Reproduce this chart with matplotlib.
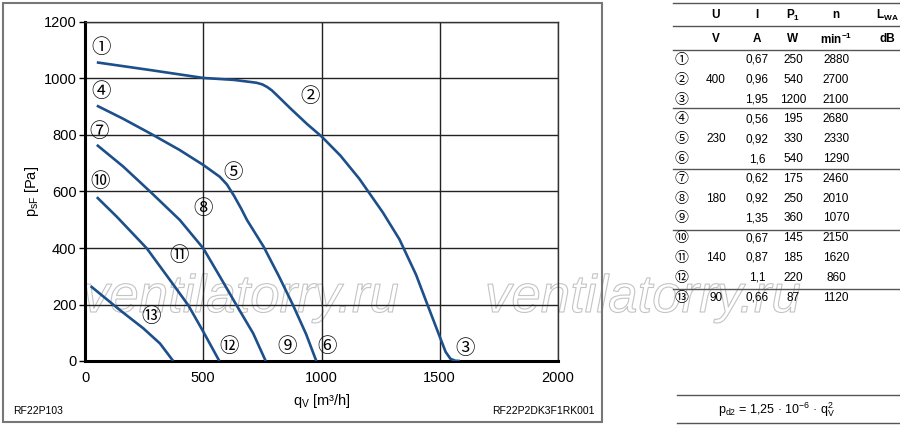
import matplotlib
matplotlib.use("Agg")
import matplotlib.pyplot as plt
import matplotlib.patheffects as pe
from matplotlib.patches import Rectangle
from matplotlib.lines import Line2D

plt.rcParams['font.family'] = ['Liberation Sans', 'DejaVu Sans']
plt.rcParams['mathtext.fontset'] = 'custom'
plt.rcParams['mathtext.rm'] = 'Liberation Sans'
plt.rcParams['mathtext.it'] = 'Liberation Sans:italic'
plt.rcParams['mathtext.bf'] = 'Liberation Sans:bold'

# curves, qV [m3/h] / psF [Pa]
c400_x = [50, 275, 500, 630, 725, 750, 770, 790, 810, 870, 940, 1000, 1080, 1160, 1260, 1330, 1400, 1450, 1500, 1525, 1545, 1565, 1585]
c400_y = [1057, 1030, 1002, 995, 985, 979, 970, 958, 942, 893, 838, 795, 727, 645, 525, 430, 305, 195, 86, 32, 8, 1, 0]
c230_x = [50, 160, 275, 400, 500, 570, 600, 630, 660, 685, 755, 820, 880, 935, 978]
c230_y = [904, 858, 806, 747, 694, 652, 625, 585, 540, 499, 405, 300, 197, 95, 0]
c180_x = [50, 162, 275, 401, 500, 571, 641, 711, 764]
c180_y = [765, 688, 600, 499, 399, 298, 197, 98, 0]
c140_x = [50, 134, 261, 359, 437, 500, 568]
c140_y = [580, 511, 399, 287, 197, 104, 0]
c90_x = [24, 148, 246, 317, 373]
c90_y = [265, 180, 116, 62, 0]

# circled point labels
lbl_nums = ['①', '②', '③', '④', '⑤', '⑥', '⑦', '⑧', '⑨', '⑩', '⑪', '⑫', '⑬']
lbl_x = [70, 951, 1606, 70, 627, 1022, 58, 500, 853, 63, 397, 610, 279]
lbl_y = [1109, 938, 45, 953, 668, 51, 812, 541, 51, 635, 375, 51, 159]

# table
col_head = ['U', 'I', r'$\mathbf{P_1}$', 'n', r'$\mathbf{L_{WA}}$']
col_unit = ['V', 'A', 'W', r'$\mathbf{min^{-1}}$', 'dB']
tab_U = ['', '400', '', '', '230', '', '', '180', '', '', '140', '', '90']
tab_I = ['0,67', '0,96', '1,95', '0,56', '0,92', '1,6', '0,62', '0,92', '1,35', '0,67', '0,87', '1,1', '0,66']
tab_P = ['250', '540', '1200', '195', '330', '540', '175', '250', '360', '145', '185', '220', '87']
tab_n = ['2880', '2700', '2100', '2680', '2330', '1290', '2460', '2010', '1070', '2150', '1620', '860', '1120']

W, H = 900, 429
fig = plt.figure(figsize=(9, 4.29), dpi=100)


def fx(px):
    return px / W


def fy(py):
    return 1 - py / H


ax = fig.add_axes([fx(85), fy(361), fx(558) - fx(85), fy(22) - fy(361)])
ax.set_facecolor('none')
blue = '#1d4f8a'
for xs, ys in [(c400_x, c400_y), (c230_x, c230_y), (c180_x, c180_y), (c140_x, c140_y), (c90_x, c90_y)]:
    ax.plot(xs, ys, color=blue, lw=1.9, zorder=3, solid_capstyle='butt', solid_joinstyle='round')

for t, x, y in zip(lbl_nums, lbl_x, lbl_y):
    ax.text(x, y, t, ha='center', va='center', fontsize=14,
            family=['Noto Sans CJK JP', 'DejaVu Sans'], zorder=4)

ax.set_xlim(0, 2000)
ax.set_ylim(0, 1200)
ax.set_xticks([0, 500, 1000, 1500, 2000])
ax.set_yticks([0, 200, 400, 600, 800, 1000, 1200])
ax.grid(True, color='#222222', lw=1.0)
ax.tick_params(axis='y', length=4, width=1, labelsize=10.5, pad=2)
ax.tick_params(axis='x', length=0, labelsize=10.5, pad=7)
for s in ['left', 'bottom']:
    ax.spines[s].set_linewidth(2.2)
for s in ['top', 'right']:
    ax.spines[s].set_linewidth(1.0)
    ax.spines[s].set_color('#333333')
ax.set_xlabel(r'q$_\mathrm{V}$ [m³/h]', fontsize=10.5)
ax.set_ylabel(r'p$_\mathrm{sF}$ [Pa]', fontsize=10.5)
ax.xaxis.set_label_coords(0.5, -0.092)
ax.yaxis.set_label_coords(-0.092, 0.5)

# watermark
for wx in [83, 485]:
    fig.text(fx(wx), fy(312), 'ventilatorry.ru', fontsize=38, style='italic',
             color=(1, 1, 1, 0), ha='left', va='baseline', zorder=-1,
             path_effects=[pe.Stroke(linewidth=0.8, foreground='#c4c4c4')])

# outer frame of the chart
fig.add_artist(Rectangle((fx(3), fy(422)), fx(602) - fx(3), fy(3) - fy(422),
                         transform=fig.transFigure, fill=False, ec='#777777', lw=1.5))
fig.text(fx(13), fy(411), 'RF22P103', fontsize=7.5, ha='left', va='center')
fig.text(fx(595), fy(411), 'RF22P2DK3F1RK001', fontsize=7.5, ha='right', va='center')

# table on the right
col_x = [716, 757, 793, 836, 887]
for cx, h, u in zip(col_x, col_head, col_unit):
    fig.text(fx(cx), fy(15), h, fontsize=8.5, weight='bold', ha='center', va='center')
    fig.text(fx(cx), fy(39), u, fontsize=8.5, weight='bold', ha='center', va='center')
for i in range(len(tab_I)):
    ry = 60 + i * 19.8
    fig.text(fx(681), fy(ry), lbl_nums[i], fontsize=10, ha='center', va='center',
             family=['Noto Sans CJK JP', 'DejaVu Sans'])
    for cx, v in zip(col_x[:4], [tab_U[i], tab_I[i], tab_P[i], tab_n[i]]):
        fig.text(fx(cx), fy(ry), v, fontsize=8.5, ha='center', va='center')
for ly in [3, 26, 50, 108, 169, 230, 289]:
    fig.add_artist(Line2D([fx(673), fx(900)], [fy(ly), fy(ly)], transform=fig.transFigure,
                          color='#555555', lw=1.0))

for ly in [395, 423]:
    fig.add_artist(Line2D([fx(677), fx(900)], [fy(ly), fy(ly)], transform=fig.transFigure,
                          color='#555555', lw=1.0))
fig.text(fx(777), fy(410), r'p$_\mathrm{d2}$ = 1,25 · 10$^\mathrm{-6}$ · q$_\mathrm{V}^\mathrm{2}$',
         fontsize=9, ha='center', va='center')

fig.savefig('out.png', dpi=100)
